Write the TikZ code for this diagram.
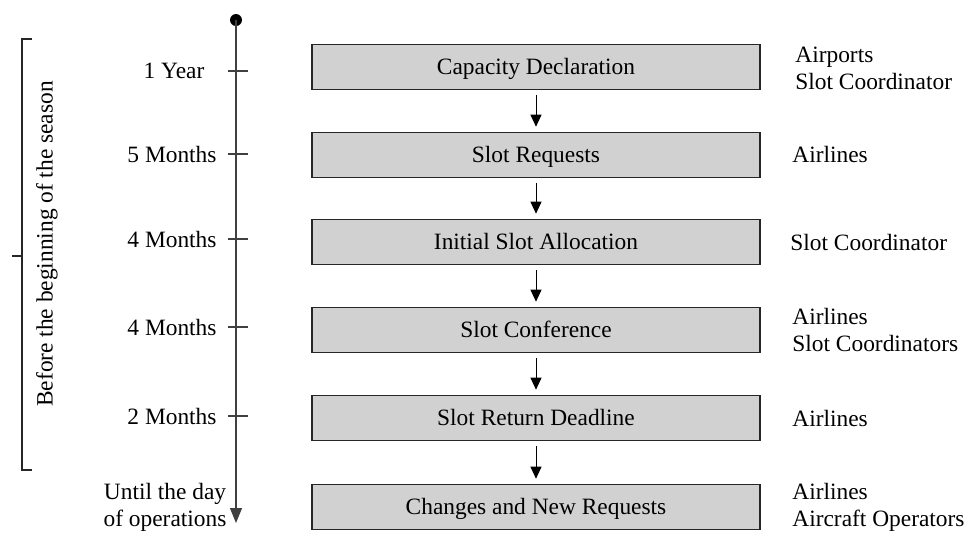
\documentclass[tikz,border=0pt]{standalone}
\usepackage{fontspec}
\setmainfont{Liberation Serif}
\usetikzlibrary{arrows.meta}

\tikzset{
  stage/.style={draw=black!85, line width=0.8pt, fill=black!18, minimum width=224pt, minimum height=22.5pt, inner sep=0pt, text height=1.6ex, text depth=0pt},
  flow/.style={line width=0.5pt, -{Triangle[width=5.5pt,length=6pt]}, shorten <=2.5pt, shorten >=2.5pt},
  who/.style={anchor=west, align=left, inner sep=0pt},
  when/.style={inner sep=0pt},
}

\begin{document}
\begin{tikzpicture}[x=0.5pt,y=-0.5pt, font=\fontsize{11.7}{13.5}\selectfont]
\useasboundingbox (0,0) rectangle (971,536);

\coordinate (T0) at (236,20);
\coordinate (T1) at (236,523);
\coordinate (K1) at (228,71);
\coordinate (K2) at (228,154);
\coordinate (K3) at (228,239);
\coordinate (K4) at (228,327);
\coordinate (K5) at (228,416);
\coordinate (B1) at (32,39);
\coordinate (B2) at (32,470);
\coordinate (B3) at (22,256);
\coordinate (B4) at (12,256);

%time line
\fill (T0) circle [radius=3pt];
\draw [line width=0.6pt, black!75, -{Triangle[width=6pt,length=7.5pt]}] (T0) -- (T1);
\draw [line width=0.6pt, black!75] (K1) -- ++(20,0);
\draw [line width=0.6pt, black!75] (K2) -- ++(20,0);
\draw [line width=0.6pt, black!75] (K3) -- ++(20,0);
\draw [line width=0.6pt, black!75] (K4) -- ++(20,0);
\draw [line width=0.6pt, black!75] (K5) -- ++(20,0);

\node [when] (w1) at (174,71) {1 Year};
\node [when] (w2) at (172,154) {5 Months};
\node [when] (w3) at (172,239) {4 Months};
\node [when] (w4) at (172,327) {4 Months};
\node [when] (w5) at (172,416) {2 Months};
\node [when, align=center] (w6) at (165,507) {Until the day\\of operations};

%bracket
\draw [line width=0.8pt, black!85] (B1) -- (22,39) -- (22,470) -- (B2);
\draw [line width=0.8pt, black!85] (B3) -- (B4);
\node [rotate=90, inner sep=0pt] (season) at (47,244) {Before the beginning of the season};

%stages
\node [stage] (cap) at (536,67) {Capacity Declaration};
\node [stage] (req) at (536,155) {Slot Requests};
\node [stage] (init) at (536,242) {Initial Slot Allocation};
\node [stage] (conf) at (536,330) {Slot Conference};
\node [stage] (ret) at (536,418) {Slot Return Deadline};
\node [stage] (chg) at (536,507) {Changes and New Requests};

\draw [flow] (cap) -- (req);
\draw [flow] (req) -- (init);
\draw [flow] (init) -- (conf);
\draw [flow] (conf) -- (ret);
\draw [flow] (ret) -- (chg);

%actors
\node [who] (a1) at (795,68) {Airports\\Slot Coordinator};
\node [who] (a2) at (792,154) {Airlines};
\node [who] (a3) at (790,242) {Slot Coordinator};
\node [who] (a4) at (792,330) {Airlines\\Slot Coordinators};
\node [who] (a5) at (792,418) {Airlines};
\node [who] (a6) at (792,507) {Airlines\\Aircraft Operators};

\end{tikzpicture}
\end{document}
